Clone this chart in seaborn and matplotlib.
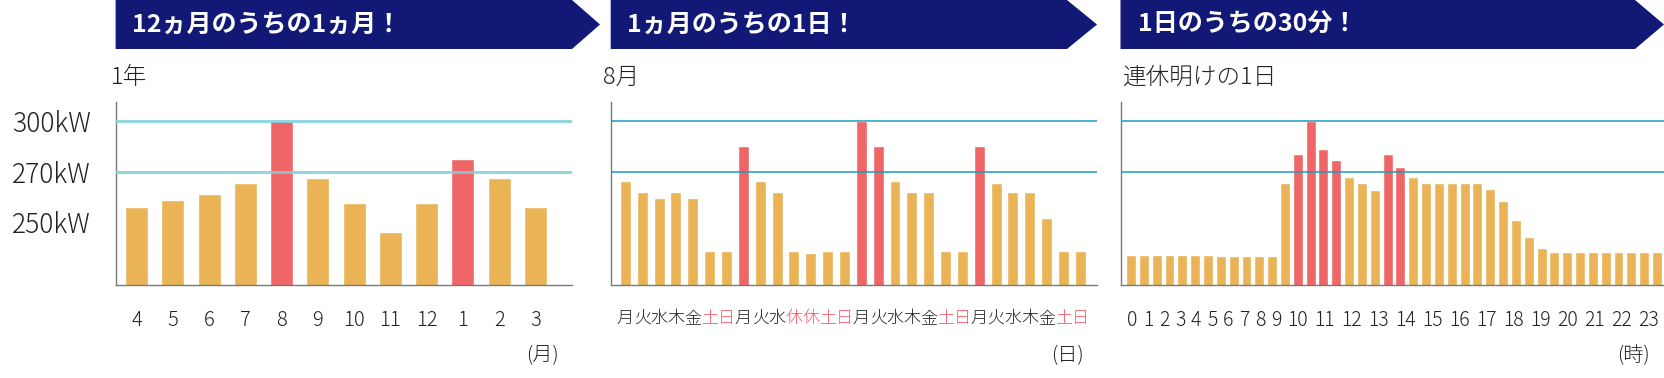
import matplotlib
matplotlib.use("Agg")
import pandas as pd
import matplotlib.pyplot as plt
from matplotlib.patches import Polygon
import seaborn as sns

# --- data ---
months = ["4", "5", "6", "7", "8", "9", "10", "11", "12", "1", "2", "3"]
month_kw = [249.2, 253.3, 256.9, 263.3, 300.0, 266.3, 251.6, 234.5, 251.6, 277.5, 266.3, 249.2]
month_peak = [0, 0, 0, 0, 1, 0, 0, 0, 0, 1, 0, 0]

days = list("月火水木金土日月火水休休土日月火水木金土日月火水木金土日")
day_kw = [264.3, 257.8, 254.3, 257.8, 254.3, 223.3, 223.3,
          284.9, 264.3, 257.8, 223.3, 222.0, 223.3, 223.3,
          300.0, 284.9, 264.3, 257.8, 257.8, 223.3, 223.3,
          284.9, 263.1, 257.8, 257.8, 242.5, 223.3, 223.3]
day_peak = [0, 0, 0, 0, 0, 0, 0,
            1, 0, 0, 0, 0, 0, 0,
            1, 1, 0, 0, 0, 0, 0,
            1, 0, 0, 0, 0, 0, 0]
day_off = ["土", "日", "休"]

slot_kw = [220.8, 220.8, 220.8, 220.8, 220.8, 220.8, 220.8,
           220.2, 220.2, 220.2, 220.2, 220.2,
           263.1, 280.2, 300.0, 283.1, 276.7, 266.7, 263.1, 259.0,
           280.2, 272.5, 266.7, 263.1, 263.1, 263.1, 263.1, 263.1,
           259.6, 252.5, 241.4, 231.4, 224.9,
           222.5, 222.5, 222.5, 222.5, 222.5, 222.5, 222.5, 222.5, 222.5]
slot_peak = [0] * 13 + [1, 1, 1, 1, 0, 0, 0, 1, 1] + [0] * 20
hours = [str(h) for h in range(24)]

ref_levels = [300, 270]
ytick_vals = [300, 270, 240.6]
ytick_labels = ["300kW", "270kW", "250kW"]

ORANGE = "#e9b356"
RED = "#f06565"
PINK = "#f7596b"
NAVY = "#121876"
TEXT = "#222222"
AXIS = "#7a7a7a"
LIGHT = "light"

W, H = 1665, 378

sns.set_style("white")
plt.rcParams["font.family"] = ["Noto Sans CJK JP", "DejaVu Sans"]

fig = plt.figure(figsize=(W / 100, H / 100), dpi=100)


def px_axes(left, right, top=101.7, bottom=285.0):
    return fig.add_axes([left / W, 1 - bottom / H, (right - left) / W, (bottom - top) / H])


def bars(ax, values, peaks, width, xlim, line_color, line_w, line_alpha):
    df = pd.DataFrame({"pos": range(len(values)), "kw": values,
                       "kind": ["peak" if p else "base" for p in peaks]})
    sns.barplot(data=df, x="pos", y="kw", hue="kind",
                palette={"base": ORANGE, "peak": RED}, dodge=False,
                width=width, saturation=1, legend=False, ax=ax)
    for lv in ref_levels:
        ax.axhline(lv, color=line_color, lw=line_w, alpha=line_alpha, zorder=5)
    ax.set_xlim(*xlim)
    ax.set_ylim(203.3, 311.2)
    ax.set_xlabel("")
    ax.set_ylabel("")
    for s in ["top", "right"]:
        ax.spines[s].set_visible(False)
    for s in ["left", "bottom"]:
        ax.spines[s].set_color(AXIS)
        ax.spines[s].set_linewidth(1.0)
    ax.tick_params(axis="both", length=0)
    ax.tick_params(axis="x", pad=18, colors=TEXT)
    ax.set_yticks([])


def banner(x0, x1, tip, text, text_x):
    pts = [(x0 / W, 1), (x1 / W, 1), (tip / W, 1 - 24.5 / H),
           (x1 / W, 1 - 49 / H), (x0 / W, 1 - 49 / H)]
    fig.add_artist(Polygon(pts, closed=True, transform=fig.transFigure,
                           facecolor=NAVY, edgecolor="none"))
    fig.text(text_x / W, 1 - 25 / H, text, color="white", fontsize=18,
             fontweight="bold", va="center", ha="left")


# panel 1: one year
ax1 = px_axes(115.6, 572)
bars(ax1, month_kw, month_peak, 0.63, (-0.58, 12.01), "#80cfdc", 2.2, 0.85)
ax1.set_xticks(range(len(months)))
ax1.set_xticklabels(months, fontsize=14.5, fontweight=LIGHT)
ax1.set_yticks(ytick_vals)
ax1.set_yticklabels(ytick_labels, fontsize=19, color=TEXT, fontweight=LIGHT)
ax1.tick_params(axis="y", pad=18)

# panel 2: August
ax2 = px_axes(610.7, 1096.7)
bars(ax2, day_kw, day_peak, 0.65, (-0.87, 27.97), "#1a9cc2", 1.1, 1.0)
ax2.set_xticks(range(len(days)))
ax2.set_xticklabels(days, fontsize=12.3, fontweight=LIGHT)
for lab, d in zip(ax2.get_xticklabels(), days):
    lab.set_color(PINK if d in day_off else TEXT)

# panel 3: the day after the holidays
ax3 = px_axes(1120.7, 1665)
bars(ax3, slot_kw, slot_peak, 0.77, (-0.8, 41.62), "#1a9cc2", 1.1, 1.0)
# hour labels are set like one line of text, so place them by their width
digit_w, space_w = 0.857, 0.39
hour_pos = []
cur = -0.33
for h in hours:
    hour_pos.append(cur + len(h) * digit_w / 2)
    cur += len(h) * digit_w + space_w
ax3.set_xticks(hour_pos)
ax3.set_xticklabels(hours, fontsize=14, fontweight=LIGHT)

# banners and small captions
banner(115.6, 572, 600, "12ヵ月のうちの1ヵ月！", 132)
banner(610.7, 1067, 1097, "1ヵ月のうちの1日！", 627)
banner(1120.5, 1635, 1664, "1日のうちの30分！", 1138)

for x, t in [(111, "1年"), (603, "8月"), (1121.6, "連休明けの1日")]:
    fig.text(x / W, 1 - 77 / H, t, fontsize=17, color=TEXT, va="center",
             ha="left", fontweight=LIGHT)

for x, t in [(542, "(月)"), (1067.5, "(日)"), (1633, "(時)")]:
    fig.text(x / W, 1 - 356 / H, t, fontsize=14.5, color=TEXT, va="center",
             ha="center", fontweight=LIGHT)

fig.savefig("out.png", dpi=100)
